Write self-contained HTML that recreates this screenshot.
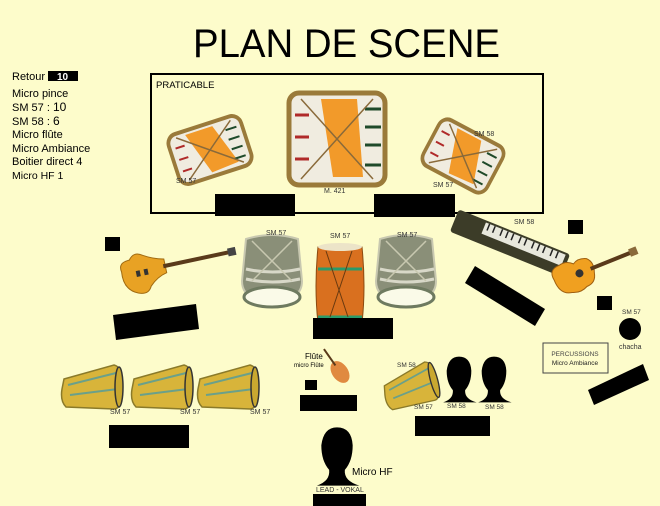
<!DOCTYPE html>
<html><head><meta charset="utf-8"><style>
html,body{margin:0;padding:0;background:#fdfccb;}
svg{display:block;font-family:"Liberation Sans",sans-serif;}
</style></head><body>
<svg width="660" height="506" viewBox="0 0 660 506" xmlns="http://www.w3.org/2000/svg">
<defs>
<g id="drum">
 <rect x="-40" y="-26" width="80" height="52" rx="10" fill="#f0ece0" stroke="#9a7a3a" stroke-width="4"/>
 <path d="M-20,-22 L10,-22 L25,20 L-5,22 Z" fill="#f29a2a"/>
 <g stroke="#b02a2a" stroke-width="2"><line x1="-34" y1="-12" x2="-24" y2="-12"/><line x1="-34" y1="0" x2="-24" y2="0"/><line x1="-34" y1="12" x2="-24" y2="12"/></g>
 <g stroke="#1f4a2a" stroke-width="2"><line x1="22" y1="-14" x2="34" y2="-14"/><line x1="22" y1="-4" x2="34" y2="-4"/><line x1="22" y1="6" x2="34" y2="6"/><line x1="22" y1="16" x2="34" y2="16"/></g>
 <path d="M-30,-22 L30,22 M-30,22 L30,-22" stroke="#8a6a3a" stroke-width="1.5"/>
</g>
<g id="conga">
 <path d="M-28,-10 L22,-24 Q30,-22 30,-8 L30,8 Q28,20 22,20 L-26,18 Q-32,12 -30,0 Z" fill="#d8b43a" stroke="#8a7a2a" stroke-width="1.5"/>
 <path d="M-24,-4 L24,-16 M-22,6 L26,0" stroke="#6aa08a" stroke-width="2"/>
 <ellipse cx="27" cy="-2" rx="4" ry="20" fill="#c9a830" stroke="#333" stroke-width="1.5"/>
</g>
<g id="head">
 <path d="M-18,30 Q-6,26 -7,16 Q-14,8 -14,-6 Q-12,-22 0,-22 Q13,-22 14,-6 Q14,8 7,16 Q6,26 20,30 Z" fill="#000"/>
</g>
<g id="dj">
 <path d="M-26,-32 Q0,-40 26,-32 L30,10 Q30,30 0,30 Q-30,30 -30,10 Z" fill="#8a8f78" stroke="#c8c8b0" stroke-width="2"/>
 <ellipse cx="0" cy="26" rx="28" ry="10" fill="#fafae8" stroke="#6e7a60" stroke-width="3"/>
 <path d="M-26,-2 Q0,4 28,-2 M-26,8 Q0,14 28,8" stroke="#d8d8c8" stroke-width="3" fill="none"/>
 <path d="M-20,-30 L20,10 M20,-30 L-20,10" stroke="#c8c8b0" stroke-width="1.5"/>
</g>
</defs>

<text x="193" y="57" font-size="40" textLength="307" lengthAdjust="spacingAndGlyphs" fill="#000">PLAN DE SCENE</text>

<g font-size="11" fill="#000">
 <text x="12" y="80">Retour</text>
 <rect x="48" y="71" width="30" height="10" fill="#000"/>
 <text x="57" y="80" fill="#fff" font-weight="bold" font-size="10">10</text>
 <text x="12" y="97">Micro pince</text>
 <text x="12" y="111">SM 57 :  <tspan font-size="12">10</tspan></text>
 <text x="12" y="125">SM 58 :   <tspan font-size="12">6</tspan></text>
 <text x="12" y="138">Micro flûte</text>
 <text x="12" y="152">Micro Ambiance</text>
 <text x="12" y="165">Boitier direct 4</text>
 <text x="12" y="179" font-size="10.5">Micro HF    1</text>
</g>

<rect x="151" y="74" width="392" height="139" fill="none" stroke="#000" stroke-width="2"/>
<text x="156" y="88" font-size="9.5">PRATICABLE</text>

<use href="#drum" transform="translate(210,150) rotate(-18) scale(0.95,1)"/>
<g transform="translate(337,139)">
 <rect x="-48" y="-46" width="96" height="92" rx="10" fill="#f0ece0" stroke="#9a7a3a" stroke-width="5"/>
 <path d="M-16,-40 L20,-40 L26,38 L-4,38 Z" fill="#f29a2a"/>
 <g stroke="#b02a2a" stroke-width="3"><line x1="-42" y1="-24" x2="-28" y2="-24"/><line x1="-42" y1="-2" x2="-28" y2="-2"/><line x1="-42" y1="20" x2="-28" y2="20"/></g>
 <g stroke="#1f4a2a" stroke-width="3"><line x1="28" y1="-30" x2="44" y2="-30"/><line x1="28" y1="-12" x2="44" y2="-12"/><line x1="28" y1="6" x2="44" y2="6"/><line x1="28" y1="26" x2="44" y2="26"/></g>
 <path d="M-36,-40 L36,40 M-36,40 L36,-40" stroke="#8a6a3a" stroke-width="1.5"/>
</g>
<use href="#drum" transform="translate(463,156) rotate(28) scale(0.9,1)"/>
<g font-size="7" fill="#333">
 <text x="176" y="183">SM 57</text>
 <text x="324" y="193">M. 421</text>
 <text x="474" y="136">SM 58</text>
 <text x="433" y="187">SM 57</text>
</g>
<rect x="215" y="194" width="80" height="22" fill="#000"/>
<rect x="374" y="194" width="81" height="23" fill="#000"/>

<rect x="105" y="237" width="15" height="14" fill="#000"/>
<g transform="translate(160,270) rotate(-12)">
 <path d="M-38,-6 Q-40,-16 -28,-16 Q-22,-24 -14,-18 Q-4,-12 6,-10 L6,4 Q-4,6 -12,14 Q-16,22 -26,18 Q-40,12 -38,-6 Z" fill="#e8a224" stroke="#a06a10"/>
 <rect x="4" y="-5" width="68" height="4" fill="#5a3a1a"/>
 <rect x="70" y="-7" width="8" height="8" fill="#444"/>
 <g fill="#333"><rect x="-24" y="-4" width="4" height="6"/><rect x="-16" y="-4" width="4" height="6"/></g>
</g>
<polygon points="113,315 196,304 199,329 116,340" fill="#000"/>

<use href="#dj" transform="translate(272,271)"/>
<use href="#dj" transform="translate(406,271)"/>
<g transform="translate(340,287)">
 <path d="M-22,-40 L22,-40 Q26,0 22,36 L-22,36 Q-26,0 -22,-40 Z" fill="#d9701f" stroke="#8a4a10"/>
 <ellipse cx="0" cy="-40" rx="22" ry="4" fill="#ece4c8"/>
 <path d="M-22,-18 L22,-18 M-22,30 L22,30" stroke="#2a9a6a" stroke-width="3"/>
 <path d="M-14,-36 L8,30 M12,-36 L-10,30" stroke="#6a3a10" stroke-width="1"/>
</g>
<g font-size="7" fill="#333">
 <text x="266" y="235">SM 57</text>
 <text x="330" y="238">SM 57</text>
 <text x="397" y="237">SM 57</text>
</g>
<rect x="313" y="318" width="80" height="21" fill="#000"/>

<g transform="translate(510,243) rotate(22)">
 <rect x="-60" y="-12" width="120" height="24" rx="3" fill="#3c3c28"/>
 <rect x="-30" y="-10" width="86" height="12" fill="#e8e8dc"/>
 <g stroke="#222" stroke-width="1.5">
  <line x1="-26" y1="-10" x2="-26" y2="-3"/><line x1="-20" y1="-10" x2="-20" y2="-3"/><line x1="-12" y1="-10" x2="-12" y2="-3"/><line x1="-6" y1="-10" x2="-6" y2="-3"/><line x1="0" y1="-10" x2="0" y2="-3"/><line x1="8" y1="-10" x2="8" y2="-3"/><line x1="14" y1="-10" x2="14" y2="-3"/><line x1="22" y1="-10" x2="22" y2="-3"/><line x1="28" y1="-10" x2="28" y2="-3"/><line x1="34" y1="-10" x2="34" y2="-3"/><line x1="42" y1="-10" x2="42" y2="-3"/><line x1="48" y1="-10" x2="48" y2="-3"/>
 </g>
</g>
<text x="514" y="224" font-size="7" fill="#333">SM 58</text>
<polygon points="475,266 545,309 535,326 465,283" fill="#000"/>

<rect x="568" y="220" width="15" height="14" fill="#000"/>
<g transform="translate(578,275) rotate(-22)">
 <path d="M-24,-4 Q-26,-16 -14,-16 Q-6,-18 0,-12 Q6,-16 14,-12 Q20,-6 16,4 Q14,14 4,14 Q-4,18 -12,14 Q-24,12 -24,-4 Z" fill="#f0a020" stroke="#a06010"/>
 <circle cx="2" cy="-1" r="4" fill="#333"/>
 <rect x="14" y="-3" width="44" height="4" fill="#5a3a1a"/>
 <rect x="56" y="-5" width="8" height="8" fill="#8a6a3a"/>
</g>
<rect x="597" y="296" width="15" height="14" fill="#000"/>
<text x="622" y="314" font-size="6.5" fill="#333">SM 57</text>
<circle cx="630" cy="329" r="11" fill="#000"/>
<text x="619" y="349" font-size="7" fill="#333">chacha</text>
<rect x="543" y="343" width="65" height="30" fill="none" stroke="#444" stroke-width="1"/>
<text x="575" y="356" font-size="6.5" text-anchor="middle" fill="#444">PERCUSSIONS</text>
<text x="575" y="365" font-size="6.5" text-anchor="middle" fill="#222">Micro Ambiance</text>
<polygon points="588,390 643,364 649,380 594,405" fill="#000"/>

<use href="#conga" transform="translate(92,389)"/>
<use href="#conga" transform="translate(162,389)"/>
<use href="#conga" transform="translate(228,389)"/>
<g font-size="7" fill="#333">
 <text x="110" y="414">SM 57</text>
 <text x="180" y="414">SM 57</text>
 <text x="250" y="414">SM 57</text>
</g>
<rect x="109" y="425" width="80" height="23" fill="#000"/>

<text x="305" y="359" font-size="8">Flûte</text>
<text x="294" y="367" font-size="6">micro Flûte</text>
<g transform="translate(340,372) rotate(-35)">
 <ellipse cx="0" cy="0" rx="8" ry="12" fill="#e08a40"/>
 <rect x="-1" y="-28" width="2" height="20" fill="#5a3a1a"/>
</g>
<rect x="305" y="380" width="12" height="10" fill="#000"/>
<rect x="300" y="395" width="57" height="16" fill="#000"/>

<use href="#conga" transform="translate(411,388) rotate(-15) scale(0.9)"/>
<text x="397" y="367" font-size="6.5" fill="#333">SM 58</text>
<text x="414" y="409" font-size="6.5" fill="#333">SM 57</text>
<g transform="translate(459,376) scale(0.88)"><use href="#head"/></g>
<g transform="translate(494,376) scale(0.88)"><use href="#head"/></g>
<text x="447" y="408" font-size="6.5" fill="#333">SM 58</text>
<text x="485" y="409" font-size="6.5" fill="#333">SM 58</text>
<rect x="415" y="416" width="75" height="20" fill="#000"/>

<g transform="translate(337,452) scale(1.12)"><use href="#head"/></g>
<text x="352" y="475" font-size="10">Micro HF</text>
<text x="316" y="492" font-size="7" fill="#333">LEAD - VOKAL</text>
<rect x="313" y="494" width="53" height="12" fill="#000"/>
</svg>
</body></html>
